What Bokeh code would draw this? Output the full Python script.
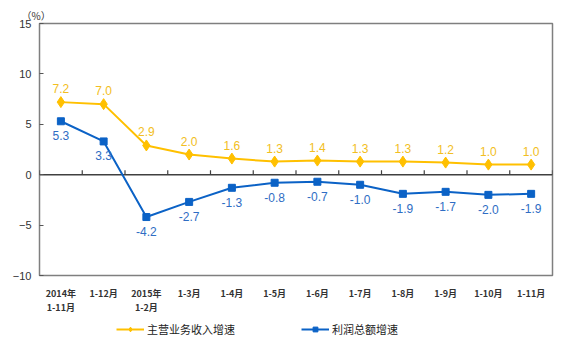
from bokeh.plotting import figure
from bokeh.layouts import column
from bokeh.models import Range1d, FixedTicker, Legend, LegendItem, ColumnDataSource
from bokeh.embed import file_html
from bokeh.resources import INLINE
from bokeh.core.properties import value

categories = ["2014年\n1-11月", "1-12月", "2015年\n1-2月", "1-3月", "1-4月", "1-5月",
              "1-6月", "1-7月", "1-8月", "1-9月", "1-10月", "1-11月"]
revenue_growth = [7.2, 7.0, 2.9, 2.0, 1.6, 1.3, 1.4, 1.3, 1.3, 1.2, 1.0, 1.0]
profit_growth = [5.3, 3.3, -4.2, -2.7, -1.3, -0.8, -0.7, -1.0, -1.9, -1.7, -2.0, -1.9]
y_ticks = [-10, -5, 0, 5, 10, 15]
series_names = ["主营业务收入增速", "利润总额增速"]

YELLOW = "#FFC000"
YELLOW_TXT = "#F2BE22"
BLUE = "#0B62C6"
BLUE_TXT = "#2F6DC4"
CJK = "Noto Sans CJK SC"
NUM = "Liberation Sans"

xs = list(range(1, len(categories) + 1))

p = figure(width=580, height=316, output_backend="svg", toolbar_location=None,
           x_range=Range1d(0.5, len(categories) + 0.5), y_range=Range1d(-10, 15),
           min_border_left=39, min_border_right=28, min_border_top=23, min_border_bottom=40)
p.background_fill_color = "white"
p.border_fill_color = "white"
p.outline_line_color = "#7f7f7f"
p.outline_line_width = 1.5
p.grid.visible = False

p.title.text = "（%）"
p.title.text_font = CJK
p.title.text_font_size = "10px"
p.title.text_font_style = "normal"
p.title.text_color = "#333333"
p.title.align = "left"
p.title.offset = -18
p.title.standoff = 2

# y axis
p.yaxis.ticker = FixedTicker(ticks=y_ticks)
p.yaxis.axis_line_color = None
p.yaxis.major_tick_in = 4
p.yaxis.major_tick_out = 0
p.yaxis.minor_tick_line_color = None
p.yaxis.major_tick_line_color = "#555555"
p.yaxis.major_label_text_font = NUM
p.yaxis.major_label_text_font_size = "11px"
p.yaxis.major_label_text_color = "#333333"
p.yaxis.major_label_standoff = 8

# x axis
p.xaxis.ticker = FixedTicker(ticks=xs)
p.xaxis.major_label_overrides = {x: c for x, c in zip(xs, categories)}
p.xaxis.axis_line_color = None
p.xaxis.major_tick_line_color = None
p.xaxis.minor_tick_line_color = None
p.xaxis.major_label_text_font = CJK
p.xaxis.major_label_text_font_size = "9px"
p.xaxis.major_label_text_font_style = "bold"
p.xaxis.major_label_text_color = "#333333"
p.xaxis.major_label_text_line_height = 1.1
p.xaxis.major_label_standoff = 5

# zero line and its category tick marks
p.segment(x0=[0.5], y0=[0], x1=[len(categories) + 0.5], y1=[0], line_color="#404040", line_width=1.5)
bounds = [i + 0.5 for i in range(0, len(categories) + 1)]
p.segment(x0=bounds, y0=[0] * len(bounds), x1=bounds, y1=[0.45] * len(bounds),
          line_color="#404040", line_width=1.2)

src = ColumnDataSource(dict(x=xs, rev=revenue_growth, prof=profit_growth,
                            rev_t=[f"{v:.1f}" for v in revenue_growth],
                            prof_t=[f"{v:.1f}" for v in profit_growth]))

p.line("x", "rev", source=src, line_color=YELLOW, line_width=2)
p.scatter("x", "rev", source=src, marker="diamond", size=11, fill_color=YELLOW, line_color=YELLOW)
p.line("x", "prof", source=src, line_color=BLUE, line_width=2)
p.scatter("x", "prof", source=src, marker="square", size=7, fill_color=BLUE, line_color=BLUE)

p.text("x", "rev", text="rev_t", source=src, text_align="center", text_baseline="bottom",
       y_offset=-9, text_font=value(NUM), text_font_size="12px", text_color=YELLOW_TXT)
p.text("x", "prof", text="prof_t", source=src, text_align="center", text_baseline="top",
       y_offset=10, text_font=value(NUM), text_font_size="12px", text_color=BLUE_TXT)

# legend strip below the chart (its series lie outside this strip's ranges; only the legend shows)
lf = figure(width=580, height=35, output_backend="svg", toolbar_location=None,
            x_axis_location=None, y_axis_location=None,
            x_range=Range1d(100, 101), y_range=Range1d(100, 101),
            min_border=0, min_border_left=0, min_border_right=0, min_border_top=0, min_border_bottom=0)
lf.grid.visible = False
lf.outline_line_color = None
lf.background_fill_color = "white"
lf.border_fill_color = "white"
g1 = lf.line("x", "rev", source=src, line_color=YELLOW, line_width=2)
g1m = lf.scatter("x", "rev", source=src, marker="diamond", size=9, fill_color=YELLOW, line_color=YELLOW)
g2 = lf.line("x", "prof", source=src, line_color=BLUE, line_width=2)
g2m = lf.scatter("x", "prof", source=src, marker="square", size=5, fill_color=BLUE, line_color=BLUE)

legend = Legend(items=[LegendItem(label=series_names[0], renderers=[g1, g1m]),
                       LegendItem(label=series_names[1], renderers=[g2, g2m])],
                orientation="horizontal", location=(77, 14), spacing=66, label_width=88,
                label_text_font=CJK, label_text_font_size="11px", label_text_color="#222222",
                glyph_width=28, glyph_height=12, label_standoff=3, label_height=14,
                border_line_color=None, background_fill_alpha=0, padding=0, margin=0)
lf.add_layout(legend, "center")

layout = column(p, lf, spacing=0)
open("out.html", "w").write(file_html(layout, INLINE))
